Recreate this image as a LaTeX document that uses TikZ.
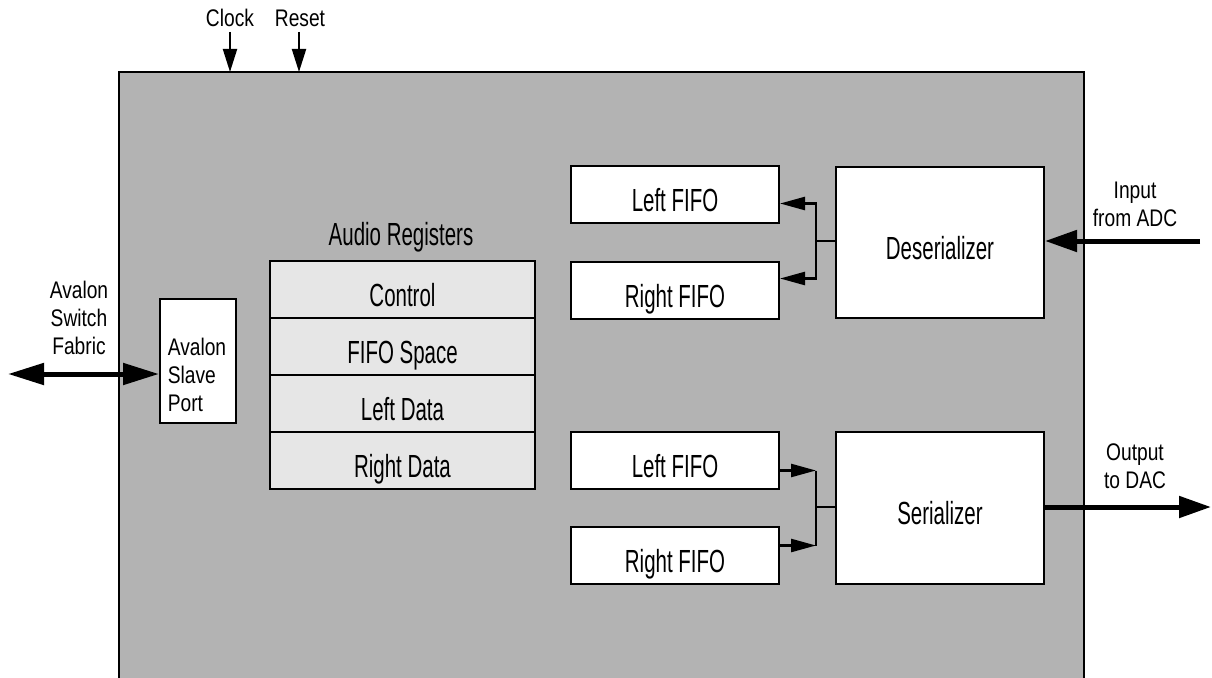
\documentclass[tikz,border=0pt]{standalone}
\usepackage{fontspec}
\setmainfont{Liberation Sans}
\newfontfamily\lblfont[FakeStretch=0.8]{Liberation Sans}
\newfontfamily\boxfont[FakeStretch=0.64]{Liberation Sans}
\usetikzlibrary{arrows.meta,calc}
\definecolor{chipgray}{HTML}{B3B3B3}
\definecolor{reggray}{HTML}{E6E6E6}
\tikzset{
  blk/.style={draw=black, line width=2pt, fill=white, inner sep=0pt,
    text height=33pt, text depth=0pt,
    font=\boxfont\fontsize{32}{34}\selectfont},
  reg/.style={blk, fill=reggray, outer sep=0pt, minimum width=265pt, minimum height=57pt},
  fifo/.style={blk, minimum width=208pt, minimum height=57pt, anchor=north west},
  bigblk/.style={blk, minimum width=208pt, anchor=north west},
  boxtxt/.style={inner sep=0pt, font=\boxfont\fontsize{32}{34}\selectfont},
  lbl/.style={inner sep=0pt, align=center, font=\lblfont\fontsize{24}{28}\selectfont},
  conn/.style={line width=2.5pt},
  carrow/.style={conn, -{Triangle[length=25pt,width=13pt]}},
  sigarrow/.style={line width=2pt, -{Triangle[length=23pt,width=14pt]}},
  busarrow/.style={line width=5pt, -{Triangle[length=32pt,width=21pt]}},
  busdbl/.style={line width=5pt, {Triangle[length=36pt,width=21pt]}-{Triangle[length=36pt,width=21pt]}},
}
\begin{document}
\begin{tikzpicture}[x=1pt,y=-1pt]
\useasboundingbox (0,0) rectangle (1212,677);
% chip body
\node[fill=chipgray, minimum width=965pt, minimum height=606pt, inner sep=0pt, outer sep=0pt, anchor=north west] (chip) at (119,72) {};
\draw[line width=2pt] (chip.south west) -- (chip.north west) -- (chip.north east) -- (chip.south east);

% clock / reset
\node[lbl] (clklbl) at (230,18) {Clock};
\node[lbl] (rstlbl) at (300,18) {Reset};
\coordinate (clk) at (230,32);
\coordinate (rst) at (299,32);
\draw[sigarrow] (clk) -- (clk |- chip.north);
\draw[sigarrow] (rst) -- (rst |- chip.north);

% Avalon slave port
\node[blk, minimum width=76pt, minimum height=124pt, anchor=north west] (port) at (159,298) {};
\node[lbl, align=left] (portlbl) at (197,375) {Avalon\\Slave\\Port};
\node[lbl] (avlbl) at (79,318) {Avalon\\Switch\\Fabric};
\coordinate (av) at (8,374);
\draw[busdbl] (av) -- (port.west |- av);

% audio registers
\node[boxtxt] (reglbl) at (401,237) {Audio Registers};
\node[reg, anchor=north west] (rctl) at (270,261) {Control};
\node[reg, anchor=north] (rspc) at (rctl.south) {FIFO Space};
\node[reg, anchor=north] (rld) at (rspc.south) {Left Data};
\node[reg, anchor=north] (rrd) at (rld.south) {Right Data};

% input side
\node[fifo] (lfin) at (570,165) {Left FIFO};
\node[fifo] (rfin) at (570,261) {Right FIFO};
\node[bigblk, minimum height=151pt] (des) at (835,166) {Deserializer};
\coordinate (dj) at (816,241);
\draw[conn] (des.west |- dj) -- (dj);
\draw[carrow] (dj) |- ($(lfin.east)+(0,9)$);
\draw[carrow] (dj) |- ($(rfin.east)+(0,-12)$);

% output side
\node[fifo] (lfout) at (570,431) {Left FIFO};
\node[fifo] (rfout) at (570,526) {Right FIFO};
\node[bigblk, minimum height=152pt] (ser) at (835,431) {Serializer};
\coordinate (sj) at (816,507);
\coordinate (sa) at ($(lfout.east)+(0,10)$);
\coordinate (sb) at ($(rfout.east)+(0,-10)$);
\draw[carrow] (sa) -- (sa -| sj);
\draw[carrow] (sb) -- (sb -| sj);
\draw[conn] (sa -| sj) -- (sb -| sj);
\draw[conn] (sj) -- (ser.west |- sj);

% external I/O
\node[lbl] (inlbl) at (1135,204) {Input\\from ADC};
\coordinate (adc) at (1200,241);
\draw[busarrow] (adc) -- (des.east |- adc);
\node[lbl] (outlbl) at (1135,466) {Output\\to DAC};
\coordinate (dac) at (1211,507);
\draw[busarrow] (ser.east |- dac) -- (dac);
\end{tikzpicture}
\end{document}
